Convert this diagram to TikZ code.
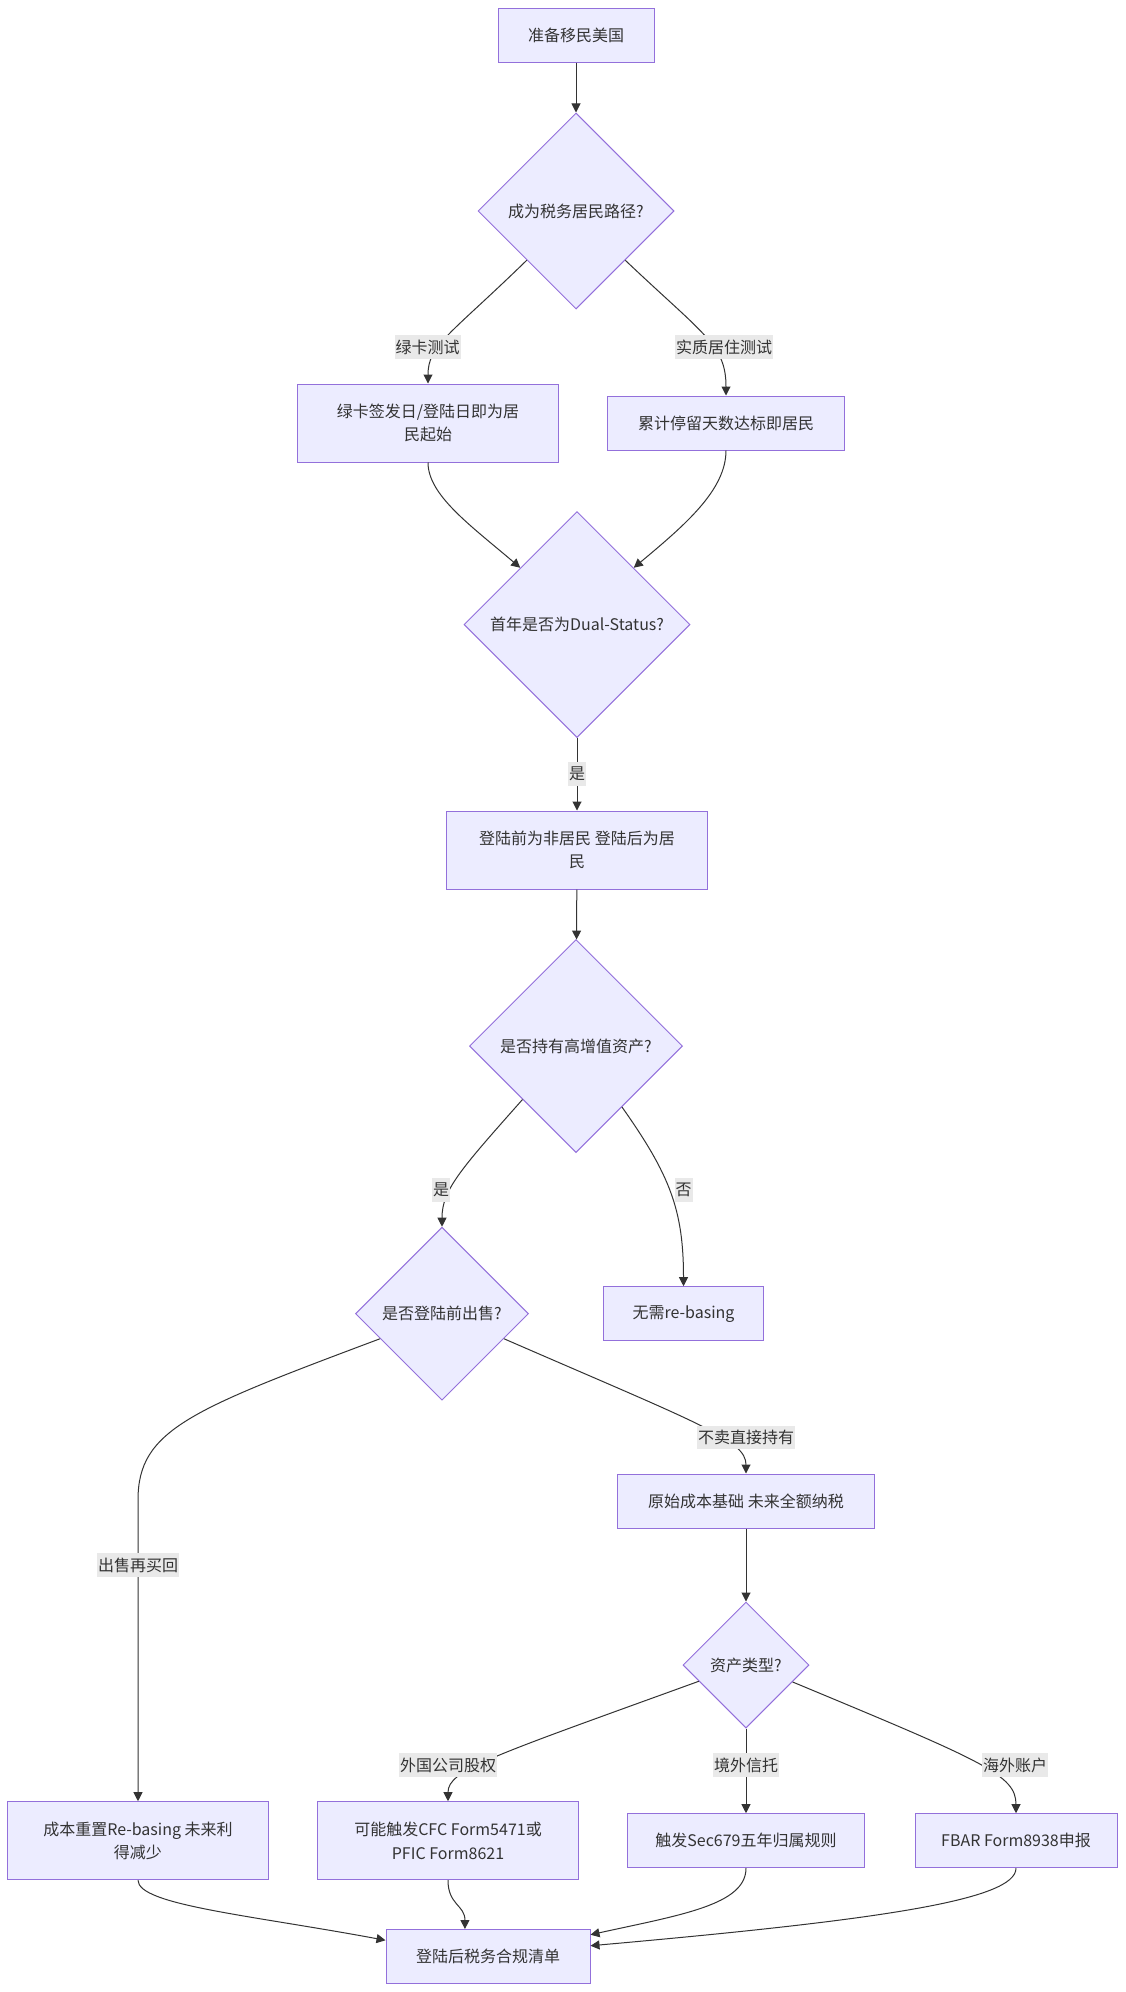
\documentclass[tikz,border=0pt]{standalone}
\usepackage{fontspec}
\newfontfamily\cjkfont{Noto Sans CJK SC}
\usetikzlibrary{shapes.geometric,arrows.meta}
\definecolor{nodefill}{HTML}{ECECFF}
\definecolor{nodeline}{HTML}{9370DB}
\definecolor{edgeline}{HTML}{333333}
\definecolor{labelfill}{HTML}{E9E9E9}
\begin{document}
\begin{tikzpicture}[x=0.5pt, y=-0.5pt,
    base/.style={font=\cjkfont\fontsize{8pt}{11.65pt}\selectfont, text=edgeline},
    block/.style={base, rectangle, draw=nodeline, fill=nodefill, line width=0.5pt, align=center, inner sep=0pt, minimum height=27pt},
    tall/.style={block, minimum height=39pt},
    decision/.style={base, diamond, aspect=1, draw=nodeline, fill=nodefill, line width=0.5pt, inner sep=0pt},
    tag/.style={base, fill=labelfill, inner xsep=0.5pt, inner ysep=0pt, minimum height=11.85pt},
    arr/.style={draw=edgeline, line width=0.5pt, -{Triangle[length=4.5pt,width=4.5pt]}}]
    \path [use as bounding box, fill=white] (0,0) rectangle (1125,1992);
    \node [block, minimum width=78pt] (start) at (576,35) {准备移民美国};
    \node [decision, minimum size=98pt] (path) at (576,211) {成为税务居民路径?};
    \node [tall, minimum width=130.5pt] (green) at (428,423) {绿卡签发日/登陆日即为居\\民起始};
    \node [block, minimum width=118.5pt] (stay) at (726,423) {累计停留天数达标即居民};
    \node [decision, minimum size=113pt] (dual) at (577,624.5) {首年是否为Dual-Status?};
    \node [tall, minimum width=130.5pt] (split) at (577,850) {登陆前为非居民 登陆后为居\\民};
    \node [decision, minimum size=106.5pt] (assets) at (576,1046) {是否持有高增值资产?};
    \node [decision, minimum size=86.5pt] (sell) at (442,1313.7) {是否登陆前出售?};
    \node [block, minimum width=80pt] (norebase) at (683.5,1313.7) {无需re-basing};
    \node [block, minimum width=128.5pt] (keep) at (746,1501) {原始成本基础 未来全额纳税};
    \node [decision, minimum size=63pt] (kind) at (746,1665) {资产类型?};
    \node [tall, minimum width=130.5pt] (rebase) at (138,1840.7) {成本重置Re-basing 未来利\\得减少};
    \node [tall, minimum width=130.5pt] (cfc) at (448,1840.7) {可能触发CFC Form5471或\\PFIC Form8621};
    \node [block, minimum width=118.5pt] (trust) at (746,1840.7) {触发Sec679五年归属规则};
    \node [block, minimum width=101pt] (fbar) at (1016,1840.7) {FBAR Form8938申报};
    \node [block, minimum width=102pt] (list) at (488,1956.5) {登陆后税务合规清单};
    \draw [arr] (start) -- (path);
    \draw [arr] (path.south west) .. controls (450,335) and (428,345) .. (green.north);
    \draw [arr] (path.south east) .. controls (704,335) and (726,345) .. (stay.north);
    \draw [arr] (green.south) .. controls (428,495) and (470,525) .. (dual.north west);
    \draw [arr] (stay.south) .. controls (726,490) and (685,525) .. (dual.north east);
    \draw [arr] (dual) -- (split);
    \draw [arr] (split) -- (assets);
    \draw [arr] (assets.south west) .. controls (460,1170) and (442,1190) .. (sell.north);
    \draw [arr] (assets.-53) .. controls (670,1175) and (683.5,1210) .. (norebase.north);
    \draw [arr] (sell.202) .. controls (190,1410) and (138,1430) .. (138,1500) -- (rebase.north);
    \draw [arr] (sell.-22) .. controls (700,1424) and (746,1440) .. (keep.north);
    \draw [arr] (keep) -- (kind);
    \draw [arr] (kind.199) .. controls (490,1757) and (448,1770) .. (cfc.north);
    \draw [arr] (kind) -- (trust);
    \draw [arr] (kind.-20) .. controls (985,1762) and (1016,1775) .. (fbar.north);
    \draw [arr] (rebase.south) .. controls (138,1905) and (250,1915) .. (list.171);
    \draw [arr] (cfc.south) .. controls (448,1905) and (465,1905) .. (list.130);
    \draw [arr] (trust.south) .. controls (746,1905) and (680,1915) .. (list.12);
    \draw [arr] (fbar.south) .. controls (1016,1900) and (880,1920) .. (list.6);
    \node [tag] (lgreen) at (427.5,347) {绿卡测试};
    \node [tag] (lstay) at (724,347) {实质居住测试};
    \node [tag] (lyes1) at (577,774) {是};
    \node [tag] (lyes2) at (441,1190) {是};
    \node [tag] (lno) at (683.5,1190) {否};
    \node [tag] (lsell) at (138,1565) {出售再买回};
    \node [tag] (lhold) at (746,1437.5) {不卖直接持有};
    \node [tag] (lcorp) at (448,1765) {外国公司股权};
    \node [tag] (ltrust) at (746,1765) {境外信托};
    \node [tag] (lacct) at (1015,1765) {海外账户};
\end{tikzpicture}
\end{document}
